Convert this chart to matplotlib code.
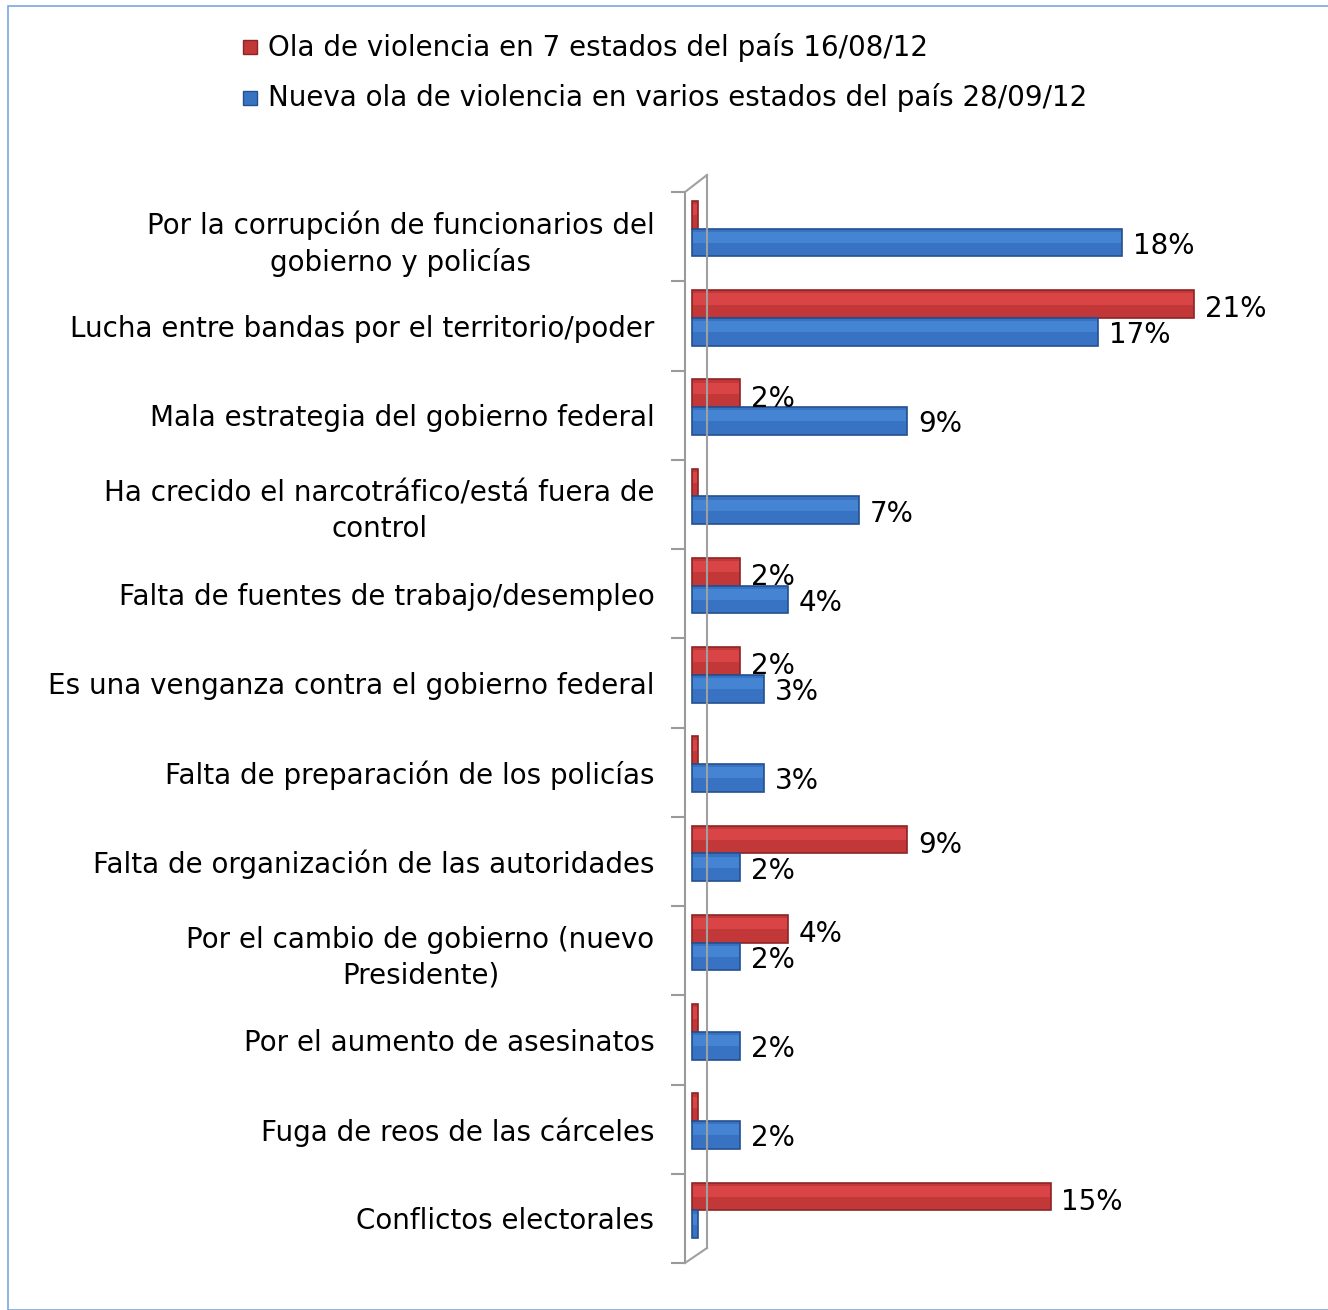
import numpy as np
import matplotlib
matplotlib.use("Agg")
import matplotlib.pyplot as plt
from matplotlib.patches import Rectangle
from matplotlib.lines import Line2D

plt.rcParams['font.family'] = ['DejaVu Sans']

# datos
categorias = [
    "Por la corrupción de funcionarios del\ngobierno y policías",
    "Lucha entre bandas por el territorio/poder",
    "Mala estrategia del gobierno federal",
    "Ha crecido el narcotráfico/está fuera de\ncontrol",
    "Falta de fuentes de trabajo/desempleo",
    "Es una venganza contra el gobierno federal",
    "Falta de preparación de los policías",
    "Falta de organización de las autoridades",
    "Por el cambio de gobierno (nuevo\nPresidente)",
    "Por el aumento de asesinatos",
    "Fuga de reos de las cárceles",
    "Conflictos electorales",
]
ola_ago = [0, 21, 2, 0, 2, 2, 0, 9, 4, 0, 0, 15]
ola_sep = [18, 17, 9, 7, 4, 3, 3, 2, 2, 2, 2, 0]
series = ["Ola de violencia en 7 estados del país 16/08/12",
          "Nueva ola de violencia en varios estados del país 28/09/12"]

ROJO, ROJO_B, ROJO_L = '#C23839', '#8E2426', '#D94546'
AZUL, AZUL_B, AZUL_L = '#3873C3', '#24508F', '#4584D3'
FS = 20

W, H = 1328, 1310
fig = plt.figure(figsize=(W / 100, H / 100), dpi=100)

def fx(px):
    return px / W

def fy(py):
    return 1 - py / H

# eje: borde izquierdo en x=685 px, el 0 en 692 px, 23.9 px por punto
escala = 23.9
ax_l, ax_r = 685, 1300
ax_t, ax_b = 192, 1263
ax = fig.add_axes([fx(ax_l), fy(ax_b), fx(ax_r - ax_l), (ax_b - ax_t) / H])
ax.set_xlim(-(692 - ax_l) / escala, (ax_r - 692) / escala)
n = len(categorias)
ax.set_ylim(n - 0.5, -0.5)

y = np.arange(n)
h = 0.31
off = -0.09
v1 = np.array(ola_ago, dtype=float)
v2 = np.array(ola_sep, dtype=float)
for vals, pos, c, cb, cl in [(v1, y + off - h / 2, ROJO, ROJO_B, ROJO_L),
                             (v2, y + off + h / 2, AZUL, AZUL_B, AZUL_L)]:
    ancho = np.maximum(vals, 0.25)
    ax.barh(pos, ancho, height=h, color=c, edgecolor=cb, linewidth=1.2, zorder=3)
    # brillo superior
    ax.barh(pos - h * 0.18, ancho - 0.08, left=0.04, height=h * 0.4, color=cl,
            linewidth=0, zorder=3.5)

for i in range(n):
    if v1[i] > 0:
        ax.text(v1[i] + 0.45, y[i] + off - h / 2 + 0.06, f"{ola_ago[i]:.0f}%",
                va='center', ha='left', fontsize=FS, color='black', zorder=4)
    if v2[i] > 0:
        ax.text(v2[i] + 0.45, y[i] + off + h / 2 + 0.04, f"{ola_sep[i]:.0f}%",
                va='center', ha='left', fontsize=FS, color='black', zorder=4)

ax.set_yticks(y)
ax.set_yticklabels(categorias, fontsize=FS, multialignment='center', linespacing=1.35)
ax.tick_params(axis='y', which='major', length=0, pad=22)
ax.set_yticks(np.arange(n + 1) - 0.5, minor=True)
ax.tick_params(axis='y', which='minor', length=10, width=1.5, color='#9A9A9A')
ax.set_xticks([])
for s in ['top', 'right', 'bottom']:
    ax.spines[s].set_visible(False)
ax.spines['left'].set_color('#9A9A9A')
ax.spines['left'].set_linewidth(1.5)
ax.patch.set_visible(False)

# pared 3D
gris = '#A0A0A0'
fig.add_artist(Line2D([fx(707), fx(707)], [fy(175), fy(1248)], color=gris, lw=1.5))
fig.add_artist(Line2D([fx(685), fx(707)], [fy(192), fy(175)], color=gris, lw=1.5))
fig.add_artist(Line2D([fx(685), fx(707)], [fy(1263), fy(1248)], color=gris, lw=1.5))

# leyenda
for k, (nombre, c, cb) in enumerate([(series[0], ROJO, ROJO_B), (series[1], AZUL, AZUL_B)]):
    yy = [47, 98][k]
    fig.add_artist(Rectangle((fx(243), fy(yy + 7)), fx(14), 14 / H,
                             facecolor=c, edgecolor=cb, lw=1))
    fig.text(fx(268), fy(yy), nombre, fontsize=FS, va='center', ha='left')

# marco
fig.add_artist(Rectangle((fx(8), 0), 1.2, fy(6), fill=False,
                         edgecolor='#7AA7E0', lw=1.2))

fig.savefig("out.png", dpi=100)
